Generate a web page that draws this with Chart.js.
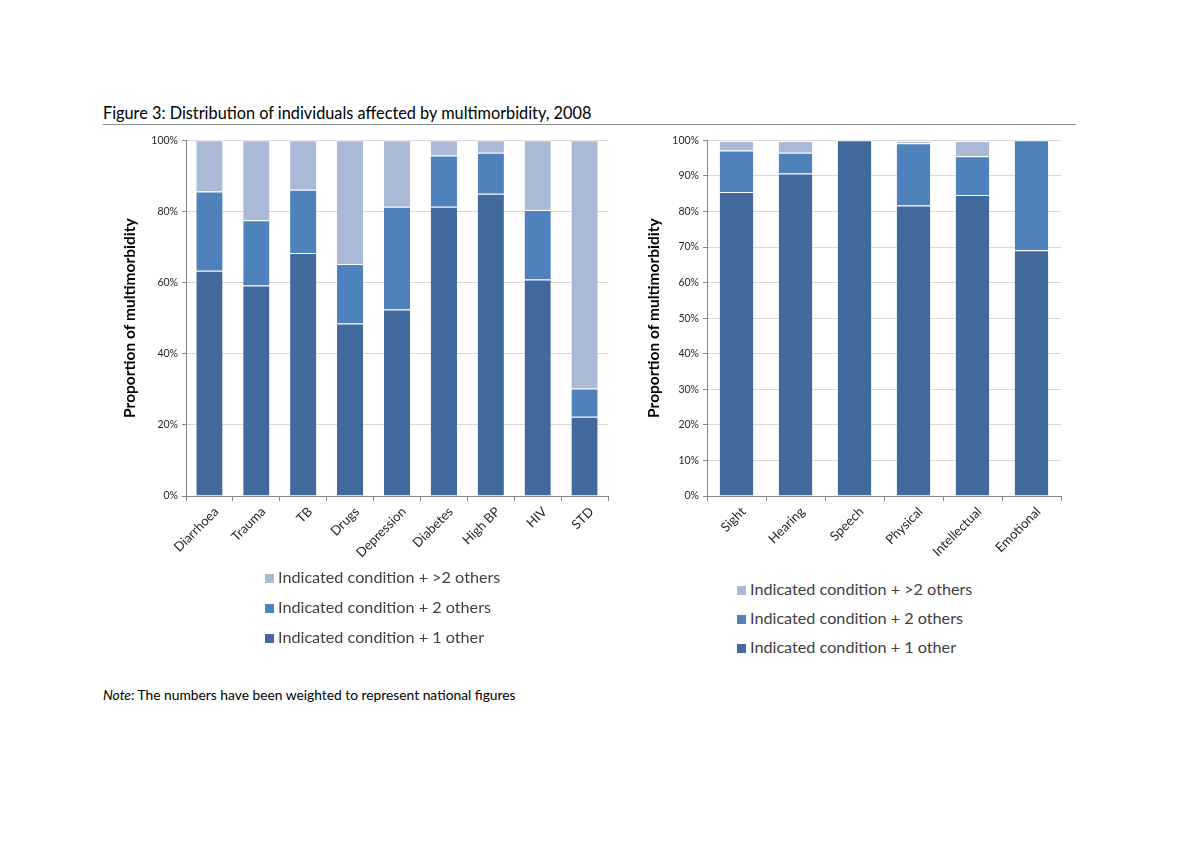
<!DOCTYPE html>
<html>
<head>
<meta charset="utf-8">
<script src="https://cdn.jsdelivr.net/npm/chart.js@4"></script>
<style>
  body { margin: 0; background: #fff; font-family: Lato, "Open Sans", sans-serif; }
  #page { position: relative; width: 1200px; height: 848px; }
  .title { position: absolute; left: 103px; top: 103px; font-size: 16.3px; color: #000; }
  .rule { position: absolute; left: 103px; top: 124px; width: 973px; height: 1px; background: #8c8c8c; }
  .chart { position: absolute; }
  .legend { position: absolute; font-size: 16.2px; color: #404040; }
  .legend div { height: 30px; line-height: 20px; white-space: nowrap; }
  .legend span { display: inline-block; width: 9px; height: 9px; margin-right: 4px; vertical-align: 0px; }
  #legendRight div { height: 29px; }
  .note { position: absolute; left: 103px; top: 686px; font-size: 13.8px; color: #000; }
</style>
</head>
<body>
<div id="page">
  <div class="title">Figure 3: Distribution of individuals affected by multimorbidity, 2008</div>
  <div class="rule"></div>
  <div class="chart" style="left:110px; top:130px; width:510px; height:440px;"><canvas id="leftChart"></canvas></div>
  <div class="chart" style="left:640px; top:130px; width:440px; height:440px;"><canvas id="rightChart"></canvas></div>
  <div class="legend" id="legendLeft" style="left:265px; top:567px;"></div>
  <div class="legend" id="legendRight" style="left:737px; top:579px;"></div>
  <div class="note"><i>Note</i>: The numbers have been weighted to represent national figures</div>
</div>

<script>
// --- data ---
const conditionLabels = ['Diarrhoea', 'Trauma', 'TB', 'Drugs', 'Depression', 'Diabetes', 'High BP', 'HIV', 'STD'];
const conditionOneOther = [63.3, 59.2, 68.3, 48.5, 52.4, 81.3, 85.0, 60.9, 22.3];
const conditionTwoOthers = [22.3, 18.3, 17.8, 16.7, 28.9, 14.4, 11.5, 19.5, 7.9];
const conditionMoreOthers = [14.4, 22.5, 13.9, 34.8, 18.7, 4.3, 3.5, 19.6, 69.8];

const disabilityLabels = ['Sight', 'Hearing', 'Speech', 'Physical', 'Intellectual', 'Emotional'];
const disabilityOneOther = [85.5, 90.7, 100, 81.7, 84.6, 69.1];
const disabilityTwoOthers = [11.6, 5.8, 0, 17.5, 10.9, 30.9];
const disabilityMoreOthers = [2.7, 3.3, 0, 0.6, 4.3, 0];

const leftTicks = [0, 20, 40, 60, 80, 100];
const rightTicks = [0, 10, 20, 30, 40, 50, 60, 70, 80, 90, 100];

const seriesNames = ['Indicated condition + 1 other', 'Indicated condition + 2 others', 'Indicated condition + >2 others'];
const seriesColors = ['#41699c', '#4f81bd', '#a9b9d6'];

const FONT = 'Lato, "Open Sans", sans-serif';

function makeDatasets(one, two, more, barPct) {
    return [one, two, more].map((vals, i) => ({
        label: seriesNames[i],
        data: vals,
        backgroundColor: seriesColors[i],
        borderColor: 'rgba(255,255,255,0.85)',
        borderWidth: { top: 1, bottom: 0, left: 0, right: 0 },
        borderSkipped: false,
        categoryPercentage: 1,
        barPercentage: barPct
    }));
}

function makeChart(canvasId, labels, datasets, tickVals, yWidth, titlePad, pad) {
    return new Chart(document.getElementById(canvasId), {
        type: 'bar',
        data: { labels: labels, datasets: datasets },
        options: {
            responsive: true,
            maintainAspectRatio: false,
            animation: false,
            layout: { padding: pad },
            plugins: { legend: { display: false }, tooltip: { enabled: false } },
            scales: {
                x: {
                    stacked: true,
                    grid: { drawOnChartArea: false, drawTicks: true, tickLength: 5, color: '#868686', offset: true },
                    border: { color: '#868686' },
                    ticks: { minRotation: 45, maxRotation: 45, color: '#262626', font: { family: FONT, size: 13 }, padding: 3, labelOffset: 7 },
                    afterFit: (s) => { s.height = 74; }
                },
                y: {
                    stacked: true,
                    min: 0,
                    max: 100,
                    afterBuildTicks: (s) => { s.ticks = tickVals.map(v => ({ value: v })); },
                    grid: { color: '#d9d9d9', tickColor: '#868686', tickLength: 4 },
                    border: { color: '#868686' },
                    ticks: { color: '#262626', font: { family: FONT, size: 10.5 }, padding: 4, callback: (v) => v + '%' },
                    title: { display: true, text: 'Proportion of multimorbidity', color: '#000', font: { family: FONT, size: 15.5, weight: 'bold' }, padding: { top: titlePad, bottom: 0 } },
                    afterFit: (s) => { s.width = yWidth; }
                }
            }
        }
    });
}

function buildLegend(elId) {
    const el = document.getElementById(elId);
    for (let i = seriesNames.length - 1; i >= 0; i--) {
        const row = document.createElement('div');
        row.innerHTML = '<span style="background:' + seriesColors[i] + '"></span>' + seriesNames[i].replace('>', '&gt;');
        el.appendChild(row);
    }
}

makeChart('leftChart', conditionLabels,
    makeDatasets(conditionOneOther, conditionTwoOthers, conditionMoreOthers, 0.56),
    leftTicks, 76, 11, { top: 10, right: 12, left: 0, bottom: 0 });

makeChart('rightChart', disabilityLabels,
    makeDatasets(disabilityOneOther, disabilityTwoOthers, disabilityMoreOthers, 0.57),
    rightTicks, 67, 5, { top: 9, right: 19, left: 0, bottom: 0 });

buildLegend('legendLeft');
buildLegend('legendRight');
</script>
</body>
</html>
